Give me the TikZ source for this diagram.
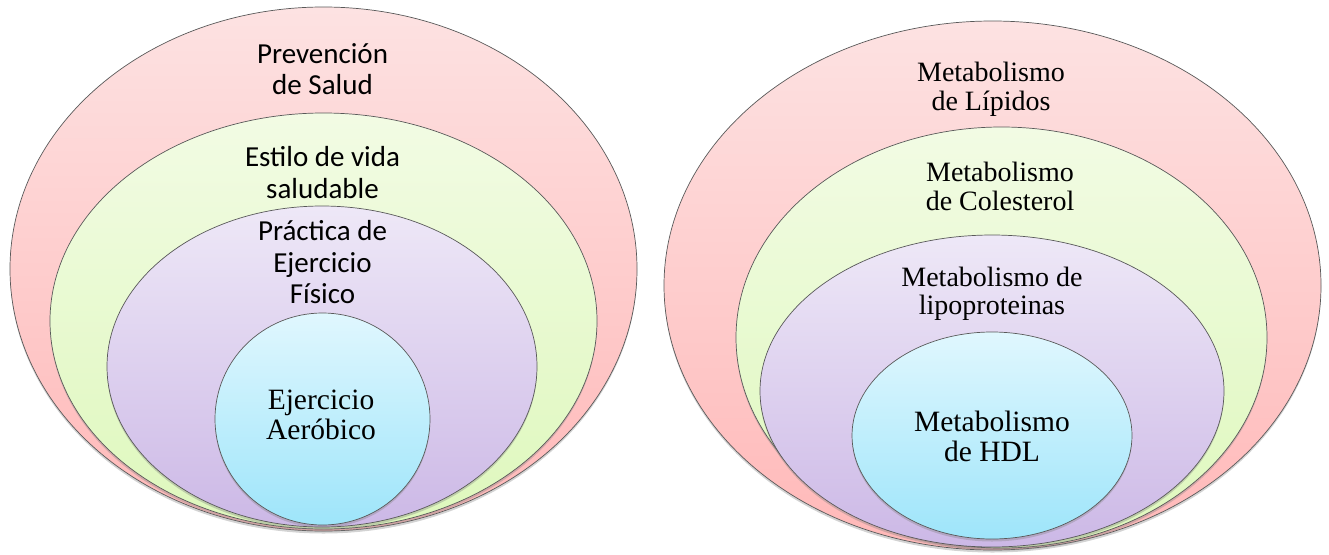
\documentclass[tikz,border=0pt]{standalone}
\usepackage{fontspec}
\setmainfont{Liberation Serif}
\newfontfamily\calibrifont{Carlito}
\usetikzlibrary{shapes.geometric,shadows}

\definecolor{pinktop}{RGB}{253,226,226}
\definecolor{pinkbot}{RGB}{255,184,184}
\definecolor{greentop}{RGB}{242,251,228}
\definecolor{greenbot}{RGB}{222,248,188}
\definecolor{lilatop}{RGB}{238,232,247}
\definecolor{lilabot}{RGB}{204,184,230}
\definecolor{cyantop}{RGB}{224,247,254}
\definecolor{cyanbot}{RGB}{158,229,250}

\begin{document}
\begin{tikzpicture}[
    x=1pt, y=-1pt,
    ring/.style={
        ellipse,
        draw=black!65,
        line width=0.7pt,
        inner sep=0pt,
        drop shadow={shadow xshift=0pt, shadow yshift=-2.5pt, opacity=0.35}
    },
    sanstext/.style={
        align=center,
        inner sep=0pt,
        font=\calibrifont\fontsize{29}{31.5}\selectfont
    },
    seriftext/.style={
        align=center,
        inner sep=0pt,
        font=\fontsize{28}{28.5}\selectfont
    }
]

\useasboundingbox (0,0) rectangle (1329,554);

\node[ring, top color=pinktop, bottom color=pinkbot,
    minimum width=627, minimum height=524] (salud) at (323.5,269) {};
\node[ring, top color=greentop, bottom color=greenbot,
    minimum width=547, minimum height=416] (estilo) at (323.5,321) {};
\node[ring, top color=lilatop, bottom color=lilabot,
    minimum width=430, minimum height=321] (practica) at (322,366.5) {};
\node[ring, top color=cyantop, bottom color=cyanbot,
    minimum width=215, minimum height=212] (aerobico) at (322.5,419) {};

\node[sanstext] (saludtxt) at (322.5,68.9) {Prevención\\de Salud};
\node[sanstext] (estilotxt) at (322.5,172.4) {Estilo de vida\\saludable};
\node[sanstext] (practicatxt) at (322.5,262.2) {Práctica de\\Ejercicio\\Físico};
\node[seriftext, font=\fontsize{29.5}{30}\selectfont] (aerobicotxt) at (321,415)
{Ejercicio\\Aeróbico};

\node[ring, top color=pinktop, bottom color=pinkbot,
    minimum width=657, minimum height=529] (lipidos) at (992.5,285.5) {};
\node[ring, top color=greentop, bottom color=greenbot,
    minimum width=531, minimum height=421] (colesterol) at (1001.5,337.5) {};
\node[ring, top color=lilatop, bottom color=lilabot,
    minimum width=464, minimum height=312] (lipoproteinas) at (992,391) {};
\node[ring, top color=cyantop, bottom color=cyanbot,
    minimum width=280, minimum height=207] (hdl) at (992,435.5) {};

\node[seriftext] (lipidostxt) at (991,89.5) {Metabolismo\\de Lípidos};
\node[seriftext] (colesteroltxt) at (1000,186.5) {Metabolismo\\de Colesterol};
\node[seriftext] (lipoproteinastxt) at (992,294) {Metabolismo de\\lipoproteinas};
\node[seriftext, font=\fontsize{29.5}{30}\selectfont] (hdltxt) at (992,436)
{Metabolismo\\de HDL};

\end{tikzpicture}
\end{document}
